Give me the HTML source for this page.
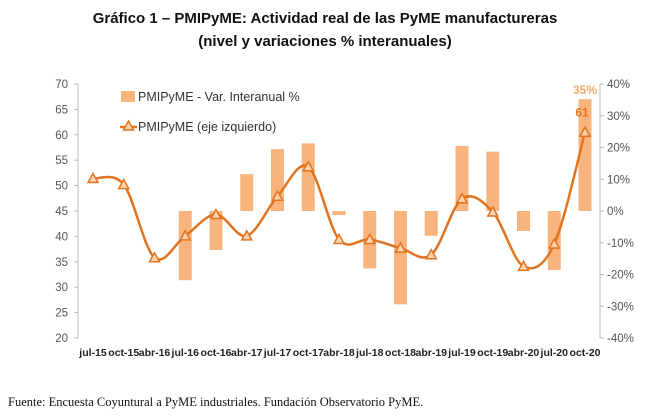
<!DOCTYPE html>
<html><head><meta charset="utf-8"><style>
body{margin:0;background:#fff;width:650px;height:417px;overflow:hidden;font-family:"Liberation Sans",sans-serif}
.t{position:absolute;left:0;width:650px;text-align:center;font-weight:bold;font-size:15px;color:#111}
</style></head><body>
<div class="t" style="top:10px">Gráfico 1 – PMIPyME: Actividad real de las PyME manufactureras</div>
<div class="t" style="top:33px">(nivel y variaciones % interanuales)</div>
<svg id="c" width="650" height="417" style="position:absolute;left:0;top:0"></svg>
<div style="position:absolute;left:8px;top:395px;font-family:'Liberation Serif',serif;font-size:12.5px;color:#111">Fuente: Encuesta Coyuntural a PyME industriales. Fundación Observatorio PyME.</div>
<script>
const categories=["jul-15","oct-15","abr-16","jul-16","oct-16","abr-17","jul-17","oct-17","abr-18","jul-18","oct-18","abr-19","jul-19","oct-19","abr-20","jul-20","oct-20"];
const pmiValues=[51.4,50.2,35.8,40.1,44.3,40.1,47.9,53.7,39.4,39.4,37.7,36.4,47.4,44.8,34.1,38.5,60.5];
const varValues=[null,null,null,-21.8,-12.3,11.6,19.5,21.3,-1.3,-18.1,-29.4,-7.8,20.5,18.7,-6.3,-18.6,35.2];
const leftTicks=[20,25,30,35,40,45,50,55,60,65,70];
const rightTicks=[-40,-30,-20,-10,0,10,20,30,40];
const NS="http://www.w3.org/2000/svg",svg=document.getElementById('c');
const x0=93,dx=(585-93)/(categories.length-1);
const X=i=>x0+i*dx, YL=v=>338-(v-20)*(254/50), YR=v=>211-v*(254/80);
function mk(t,a,txt){const e=document.createElementNS(NS,t);for(const k in a)e.setAttribute(k,a[k]);if(txt!=null)e.textContent=txt;svg.appendChild(e);return e;}
let e;
e=mk('line',{x1:78,y1:84,x2:78,y2:338,stroke:'#bbb'});

e=mk('line',{x1:600,y1:84,x2:600,y2:338,stroke:'#bbb'});

leftTicks.forEach(v=>{mk('line',{x1:74,x2:78,y1:YL(v),y2:YL(v),stroke:'#bbb'});
e=mk('text',{x:68,y:YL(v)+4,'text-anchor':'end','font-size':11.5,fill:'#555'},v);
});
rightTicks.forEach(v=>{mk('line',{x1:600,x2:604,y1:YR(v),y2:YR(v),stroke:'#bbb'});
e=mk('text',{x:607,y:YR(v)+4,'font-size':11.5,fill:'#555'},v+'%');
});
categories.forEach((c,i)=>{e=mk('text',{x:X(i),y:356,'text-anchor':'middle','font-size':10.5,'font-weight':'bold',fill:'#222'},c);
});
varValues.forEach((v,i)=>{if(v==null)return;const y1=YR(Math.max(v,0)),y2=YR(Math.min(v,0));
e=mk('rect',{x:X(i)-6.5,y:y1,width:13,height:y2-y1,fill:'#f9b47e'});
});
// smooth line
const pts=pmiValues.map((v,i)=>[X(i),YL(v)]);
let d='M'+pts[0];for(let i=0;i<pts.length-1;i++){const p0=pts[i-1]||pts[i],p1=pts[i],p2=pts[i+1],p3=pts[i+2]||p2;
d+=` C${p1[0]+(p2[0]-p0[0])/6},${p1[1]+(p2[1]-p0[1])/6} ${p2[0]-(p3[0]-p1[0])/6},${p2[1]-(p3[1]-p1[1])/6} ${p2[0]},${p2[1]}`;}
e=mk('path',{d:d,fill:'none',stroke:'#e07420','stroke-width':2.5});

pts.forEach((p,i)=>{e=mk('path',{d:`M${p[0]},${p[1]-5}L${p[0]+5},${p[1]+4}L${p[0]-5},${p[1]+4}Z`,fill:'#fbd3b0',stroke:'#e07420','stroke-width':1.5});
});
const L=pmiValues.length-1;
e=mk('text',{x:X(L)-3,y:YL(pmiValues[L])-16,'text-anchor':'middle','font-size':12,'font-weight':'bold',fill:'#e07420'},Math.round(pmiValues[L]));

e=mk('text',{x:X(L),y:YR(varValues[L])-5,'text-anchor':'middle','font-size':12,'font-weight':'bold',fill:'#f9a868'},Math.round(varValues[L])+'%');

// legend
e=mk('rect',{x:121,y:91,width:14,height:11,fill:'#f9b47e'});

e=mk('text',{x:138,y:101,'font-size':12.5,fill:'#333'},'PMIPyME - Var. Interanual %');

mk('line',{x1:120,x2:137,y1:127,y2:127,stroke:'#e07420','stroke-width':2.5});
mk('path',{d:'M128.5,121L133.5,130L123.5,130Z',fill:'#fbd3b0',stroke:'#e07420','stroke-width':1.5});
e=mk('text',{x:138,y:131,'font-size':12.5,fill:'#333'},'PMIPyME (eje izquierdo)');

</script>
</body></html>
